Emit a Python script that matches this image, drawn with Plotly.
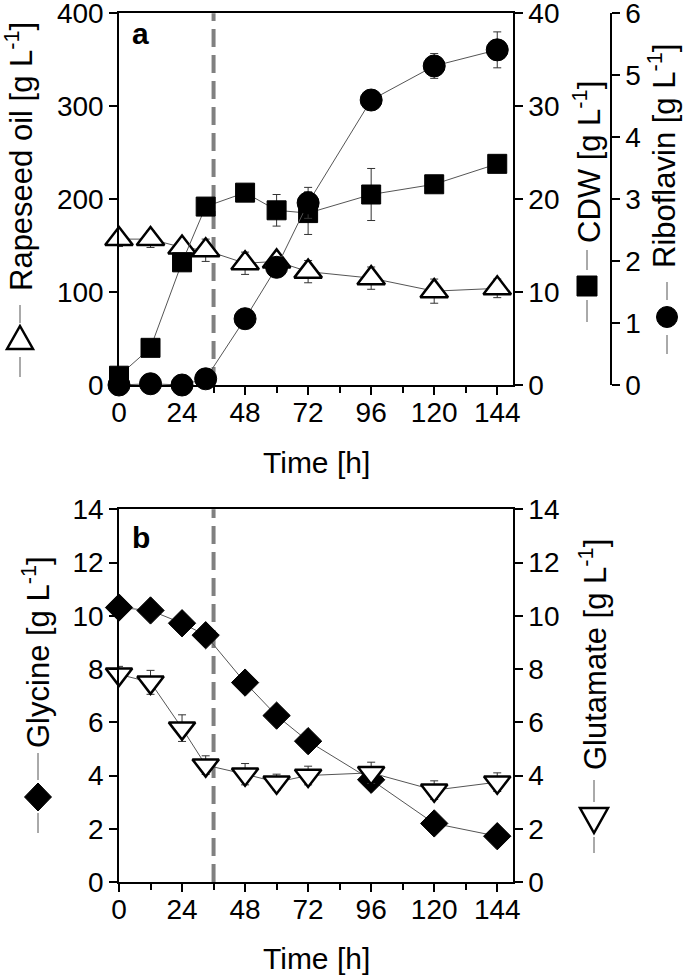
import plotly.graph_objects as go

# ---------------- data ----------------
time_h = [0, 12, 24, 33, 48, 60, 72, 96, 120, 144]
rapeseed_oil = [157, 157, 148, 145, 131, 133, 122, 115, 101, 104]
rapeseed_err = [8, 9, 8, 12, 12, 8, 12, 12, 13, 10]
cdw = [1.0, 4.0, 13.2, 19.2, 20.7, 18.8, 18.5, 20.5, 21.6, 23.8]
cdw_err = [0.3, 0.3, 0.8, 0.4, 0.5, 1.7, 2.3, 2.8, 0.5, 0.5]
riboflavin = [0.0, 0.02, 0.0, 0.1, 1.07, 1.9, 2.94, 4.6, 5.15, 5.41]
riboflavin_err = [0.02, 0.02, 0.02, 0.05, 0.1, 0.1, 0.25, 0.1, 0.2, 0.29]
glycine = [10.31, 10.2, 9.72, 9.27, 7.49, 6.25, 5.29, 3.84, 2.2, 1.72]
glycine_err = [0.1, 0.1, 0.15, 0.1, 0.1, 0.1, 0.1, 0.1, 0.1, 0.1]
glutamate = [7.8, 7.5, 5.78, 4.39, 4.05, 3.75, 4.0, 4.1, 3.45, 3.75]
glutamate_err = [0.3, 0.45, 0.5, 0.35, 0.4, 0.3, 0.35, 0.4, 0.35, 0.35]
feed_switch_h = 36

x_ticks = [0, 24, 48, 72, 96, 120, 144]
x_minor = [12, 36, 60, 84, 108, 132]

FONT = "Liberation Sans, Arial, sans-serif"
TICKSZ = 28
TITLESZ = 30
ROTSZ = 31
LINEC = "#555555"

# ---------------- geometry (screenshot pixels) ----------------
W, H = 685, 976
L_S, T_S, R_S, B_S = 119, 13, 611, 882   # plot area in px
ML, MT = L_S, T_S
MR, MB = W - R_S, H - B_S
PW, PH = R_S - L_S, B_S - T_S


def px(x):
    return (x - L_S) / PW


def py(y):
    return (B_S - y) / PH


fig = go.Figure()


def err(arr):
    return dict(type="data", array=arr, visible=True, color="#333333",
                thickness=1, width=4)


fig.add_trace(go.Scatter(
    x=time_h, y=rapeseed_oil, error_y=err(rapeseed_err), xaxis="x", yaxis="y",
    mode="lines+markers", cliponaxis=False,
    line=dict(color=LINEC, width=1),
    marker=dict(symbol="triangle-up", size=24, color="white",
                line=dict(color="black", width=2.5)),
    name="Rapeseed oil"))
fig.add_trace(go.Scatter(
    x=time_h, y=cdw, error_y=err(cdw_err), xaxis="x", yaxis="y2",
    mode="lines+markers", cliponaxis=False,
    line=dict(color=LINEC, width=1),
    marker=dict(symbol="square", size=19, color="black",
                line=dict(color="black", width=1)),
    name="CDW"))
fig.add_trace(go.Scatter(
    x=time_h, y=riboflavin, error_y=err(riboflavin_err), xaxis="x", yaxis="y3",
    mode="lines+markers", cliponaxis=False,
    line=dict(color=LINEC, width=1),
    marker=dict(symbol="circle", size=22, color="black",
                line=dict(color="black", width=1)),
    name="Riboflavin"))
fig.add_trace(go.Scatter(
    x=time_h, y=glycine, error_y=err(glycine_err), xaxis="x2", yaxis="y4",
    mode="lines+markers", cliponaxis=False,
    line=dict(color=LINEC, width=1),
    marker=dict(symbol="diamond", size=21, color="black",
                line=dict(color="black", width=1)),
    name="Glycine"))
fig.add_trace(go.Scatter(
    x=time_h, y=glutamate, error_y=err(glutamate_err), xaxis="x2", yaxis="y5",
    mode="lines+markers", cliponaxis=False,
    line=dict(color=LINEC, width=1),
    marker=dict(symbol="triangle-down", size=23, color="white",
                line=dict(color="black", width=2.5)),
    name="Glutamate"))

axcommon = dict(showline=True, linecolor="black", linewidth=1.5, ticks="outside",
                ticklen=8, tickwidth=1.5, tickcolor="black", showgrid=False,
                zeroline=False, automargin=False, ticklabeloverflow="allow",
                tickfont=dict(family=FONT, size=TICKSZ, color="black"))

xdom = [0, px(513)]
top_dom = [py(385), py(13.3)]
bot_dom = [0, py(509.3)]

xcommon = dict(axcommon, range=[0, 150], tickmode="array", tickvals=x_ticks,
               mirror=True, ticklabelstandoff=-6,
               minor=dict(tickmode="array", tickvals=x_minor, ticks="outside",
                          ticklen=6, tickwidth=1.5, tickcolor="black"))

fig.update_layout(
    width=W, height=H, margin=dict(l=ML, r=MR, t=MT, b=MB, pad=0),
    autosize=False,
    paper_bgcolor="white", plot_bgcolor="white", showlegend=False,
    font=dict(family=FONT, size=TICKSZ, color="black"),
    xaxis=dict(xcommon, domain=xdom, anchor="y"),
    yaxis=dict(axcommon, domain=top_dom, range=[0, 400], tickmode="array",
               tickvals=[0, 100, 200, 300, 400], anchor="x"),
    yaxis2=dict(axcommon, overlaying="y", side="right", range=[0, 40],
                tickmode="array", tickvals=[0, 10, 20, 30, 40], anchor="x"),
    yaxis3=dict(axcommon, overlaying="y", side="right", range=[0, 6],
                tickmode="array", tickvals=[0, 1, 2, 3, 4, 5, 6],
                anchor="free", position=1.0),
    xaxis2=dict(xcommon, domain=xdom, anchor="y4"),
    yaxis4=dict(axcommon, domain=bot_dom, range=[0, 14], tickmode="array",
                tickvals=[0, 2, 4, 6, 8, 10, 12, 14], anchor="x2"),
    yaxis5=dict(axcommon, overlaying="y4", side="right", range=[0, 14],
                tickmode="array", tickvals=[0, 2, 4, 6, 8, 10, 12, 14], anchor="x2"),
)

shapes = []
# feeding switch dashed lines
for xr, yr in (("x", "y domain"), ("x2", "y4 domain")):
    shapes.append(dict(type="line", xref=xr, yref=yr, x0=feed_switch_h,
                       x1=feed_switch_h, y0=0, y1=1, layer="below",
                       line=dict(color="#808080", width=4, dash="18px,8px")))


def vline(x, y0, y1):
    shapes.append(dict(type="line", xref="paper", yref="paper", x0=px(x), x1=px(x),
                       y0=py(y0), y1=py(y1), line=dict(color=LINEC, width=1)))


def poly(pts, fill):
    path = "M " + " L ".join(f"{px(a):.5f},{py(b):.5f}" for a, b in pts) + " Z"
    shapes.append(dict(type="path", xref="paper", yref="paper", path=path,
                       fillcolor=fill,
                       line=dict(color="black", width=2.5 if fill == "white" else 1)))


# legend keys in the axis titles
vline(20, 305, 323); vline(20, 357, 377)
poly([(20, 326), (33, 349), (7, 349)], "white")
vline(587, 250, 270); vline(587, 300, 322)
shapes.append(dict(type="rect", xref="paper", yref="paper", x0=px(577), x1=px(597),
                   y0=py(296), y1=py(276), fillcolor="black",
                   line=dict(color="black", width=1)))
vline(667, 282, 300); vline(667, 335, 354)
shapes.append(dict(type="circle", xref="paper", yref="paper", x0=px(656.5), x1=px(677.5),
                   y0=py(327.5), y1=py(306.5), fillcolor="black",
                   line=dict(color="black", width=1)))
vline(38, 753, 780); vline(38, 813, 833)
poly([(38, 783), (51.5, 797), (38, 811), (24.5, 797)], "black")
vline(594, 780, 802); vline(594, 837, 853)
poly([(580, 808), (608, 808), (594, 833)], "white")

fig.update_layout(shapes=shapes)

ann = []


def text(x, y, s, size=TITLESZ, angle=0, bold=False):
    ann.append(dict(xref="paper", yref="paper", x=px(x), y=py(y), text=s,
                    showarrow=False, textangle=angle, xanchor="center", yanchor="middle",
                    font=dict(family=FONT, size=size, color="black",
                              weight="bold" if bold else "normal")))


text(19, 157, "Rapeseed oil [g L<sup>-1</sup>]", size=ROTSZ, angle=-90)
text(587, 162, "CDW [g L<sup>-1</sup>]", size=ROTSZ, angle=-90)
text(662, 156, "Riboflavin [g L<sup>-1</sup>]", size=ROTSZ, angle=-90)
text(36, 652, "Glycine [g L<sup>-1</sup>]", size=ROTSZ, angle=-90)
text(593, 655, "Glutamate [g L<sup>-1</sup>]", size=ROTSZ, angle=-90)
text(316, 463, "Time [h]")
text(316, 958, "Time [h]")
text(140, 34, "a", bold=True)
text(141, 537, "b", bold=True)
fig.update_layout(annotations=ann)

fig.write_html("out.html", config={"displayModeBar": False},
               post_script="document.body.style.margin='0px';"
                           "document.body.style.overflow='hidden';")
